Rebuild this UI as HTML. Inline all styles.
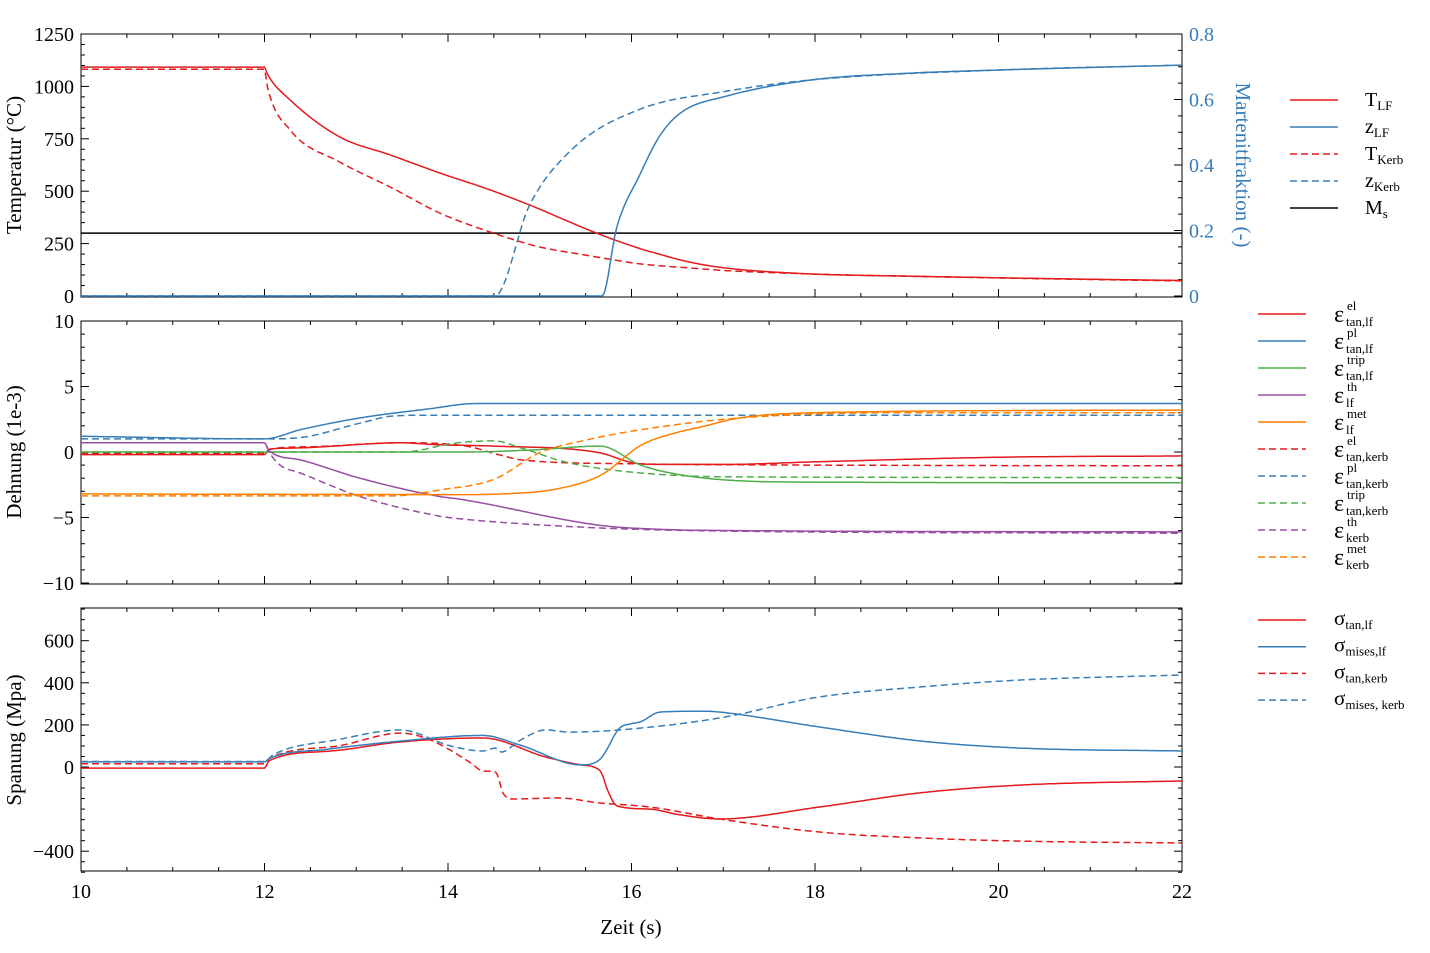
<!DOCTYPE html>
<html><head><meta charset="utf-8">
<style>
html,body{margin:0;padding:0;background:#fff;}
svg{display:block;font-family:"Liberation Serif",serif;}
</style></head>
<body>
<svg id="s" width="1430" height="953" xmlns="http://www.w3.org/2000/svg"></svg>
<script>
const svg=document.getElementById('s');
let html='';
const R='#e41a1c',B='#377eb8',G='#4daf4a',P='#984ea3',O='#ff7f00';
const X=t=>81+(t-10)*91.75;
const L=81,Rr=1182;
function line(x1,y1,x2,y2,c,w,dash){html+=`<line x1="${x1}" y1="${y1}" x2="${x2}" y2="${y2}" stroke="${c||'#000'}" stroke-width="${w||1}" ${dash?`stroke-dasharray="${dash}"`:''}/>`;}
function txt(x,y,s,opt){opt=opt||{};html+=`<text x="${x}" y="${y}" font-size="${opt.fs||20}" fill="${opt.c||'#000'}" text-anchor="${opt.a||'middle'}" ${opt.tr?`transform="${opt.tr}"`:''}>${s}</text>`;}
function curve(pts,Yf,c,dash){
  const n=pts.length,xs=pts.map(p=>p[0]),ys=pts.map(p=>p[1]);
  const d=[],m=new Array(n);
  for(let i=0;i<n-1;i++)d.push((ys[i+1]-ys[i])/(xs[i+1]-xs[i]));
  m[0]=d[0];m[n-1]=d[n-2];
  for(let i=1;i<n-1;i++){ if(d[i-1]*d[i]<=0)m[i]=0; else { m[i]=(d[i-1]+d[i])/2; } }
  for(let i=0;i<n-1;i++){ if(d[i]===0){m[i]=0;m[i+1]=0;continue;}
    const a=m[i]/d[i],b=m[i+1]/d[i],s=a*a+b*b; if(s>9){const tt=3/Math.sqrt(s);m[i]=tt*a*d[i];m[i+1]=tt*b*d[i];}}
  const out=[];
  for(let i=0;i<n-1;i++){const h=xs[i+1]-xs[i];const N=Math.max(2,Math.ceil(h*40));
    for(let k=0;k<N;k++){const u=k/N,u2=u*u,u3=u2*u;
      const y=(2*u3-3*u2+1)*ys[i]+(u3-2*u2+u)*h*m[i]+(-2*u3+3*u2)*ys[i+1]+(u3-u2)*h*m[i+1];
      out.push(X(xs[i]+u*h).toFixed(1)+','+Yf(y).toFixed(1));}}
  out.push(X(xs[n-1]).toFixed(1)+','+Yf(ys[n-1]).toFixed(1));
  html+=`<polyline points="${out.join(' ')}" fill="none" stroke="${c}" stroke-width="1.5" stroke-linejoin="round" ${dash?'stroke-dasharray="7,4"':''}/>`;
}
function frame(top,bot,yt,ytm,Yf,rightTicks){
  html+=`<rect x="${L}" y="${top}" width="${Rr-L}" height="${bot-top}" fill="none" stroke="#000" stroke-width="1"/>`;
  for(let t=10;t<=22.001;t+=0.5){const x=X(t);const len=(Math.abs(t%2)<0.01)?8:4;
    line(x,bot,x,bot-len);line(x,top,x,top+len);}
  for(const v of ytm){const y=Yf(v);line(L,y,L+4,y);if(rightTicks)line(Rr,y,Rr-4,y);}
  for(const v of yt){const y=Yf(v);line(L,y,L+8,y);if(rightTicks)line(Rr,y,Rr-8,y);
    txt(L-7,y+7,(v<0?'−'+(-v):v),{a:'end'});}
}
// Panel 1
const Y1=T=>296-T*0.2096, Z=z=>296-z*327.5;
frame(34,297,[0,250,500,750,1000,1250],[50,100,150,200,300,350,400,450,550,600,650,700,800,850,900,950,1050,1100,1150,1200],Y1,false);
for(let i=0;i<=16;i++){const z=i*0.05;const y=Z(z);line(Rr,y,Rr-(i%4===0?8:4),y,'#000');}
[0,0.2,0.4,0.6,0.8].forEach(z=>txt(Rr+7,Z(z)+7,z===0?'0':z.toFixed(1),{a:'start',c:B}));
line(L,Y1(300),Rr,Y1(300),'#000',1.5);
curve([[10,1092],[12,1092],[12.03,1060],[12.28,935],[12.82,759],[13.37,673],[13.91,587],[14.46,506],[14.89,434],[15.62,300],[16.1,225],[16.3,200],[16.6,165],[17,135],[17.97,105],[19,95],[20,87],[21,80],[22,74]],Y1,R,false);
curve([[10,1082],[12,1082],[12.03,1000],[12.28,792],[12.82,639],[13.37,520],[13.91,396],[14.46,305],[15,234],[15.5,195],[16.1,153],[16.6,135],[17,122],[17.97,105],[20,86],[22,72]],Y1,R,true);
curve([[10,0],[15.68,0],[15.84,0.21],[16.09,0.37],[16.31,0.49],[16.54,0.56],[17.03,0.61],[17.97,0.66],[19,0.68],[20,0.69],[22,0.705]],Z,B,false);
curve([[10,0],[14.51,0],[14.89,0.278],[15.36,0.45],[16.09,0.57],[17.03,0.625],[17.97,0.66],[20,0.69],[22,0.705]],Z,B,true);
// Panel 2
const E=e=>452-e*13.1;
frame(321,584,[-10,-5,0,5,10],[-9,-8,-7,-6,-4,-3,-2,-1,1,2,3,4,6,7,8,9],E,true);
curve([[10,-0.2],[12,-0.2],[12.05,0.2],[12.3,0.3],[13.48,0.7],[13.91,0.55],[14.5,0.45],[15.66,-0.07],[16,-0.8],[16.3,-0.95],[17,-0.95],[18,-0.75],[20,-0.4],[22,-0.3]],E,R,false);
curve([[10,-0.1],[12,-0.1],[12.05,0.2],[12.5,0.4],[13.5,0.7],[14.2,0.45],[14.55,-0.2],[14.8,-0.6],[16,-0.9],[18,-1.0],[22,-1.05]],E,R,true);
curve([[10,1.2],[12,1.0],[12.39,1.7],[13.04,2.6],[13.8,3.3],[14.3,3.7],[22,3.7]],E,B,false);
curve([[10,1.0],[12,1.0],[12.39,1.1],[13.04,2.2],[13.4,2.75],[13.7,2.8],[22,2.8]],E,B,true);
curve([[10,0],[14.2,0],[14.9,0.15],[15.66,0.45],[16.1,-1.0],[16.5,-1.7],[17.18,-2.2],[18,-2.3],[22,-2.35]],E,G,false);
curve([[10,0],[13.5,0],[14.1,0.7],[14.5,0.85],[14.8,0.3],[15.3,-0.8],[16.1,-1.6],[17.18,-1.9],[22,-1.95]],E,G,true);
curve([[10,0.7],[12,0.7],[12.05,0.1],[12.39,-0.6],[13.04,-2.0],[13.91,-3.4],[14.13,-3.6],[15.66,-5.6],[16.3,-5.9],[17.18,-6.0],[22,-6.1]],E,P,false);
curve([[10,0.7],[12,0.7],[12.05,0],[12.17,-1.0],[12.39,-1.6],[13.04,-3.4],[13.91,-4.9],[14.13,-5.1],[15.66,-5.8],[17.18,-6.05],[22,-6.2]],E,P,true);
curve([[10,-3.2],[14.2,-3.25],[14.6,-3.2],[15.2,-2.8],[15.67,-1.75],[16.1,0.5],[16.5,1.5],[16.75,1.9],[17.18,2.6],[18,3.0],[22,3.2]],E,O,false);
curve([[10,-3.35],[13.4,-3.35],[13.91,-2.9],[14.51,-2.06],[15,-0.05],[15.5,0.9],[16.1,1.7],[17.18,2.6],[19,3.0],[22,3.0]],E,O,true);
// Panel 3
const S=s=>767-s*0.2105;
frame(608,871,[-400,0,200,400,600],[-500,-450,-350,-300,-250,-200,-150,-100,-50,50,100,150,250,300,350,450,500,550,650,700,750],S,true);
curve([[10,-5],[12,-5],[12.05,30],[12.7,75],[13.48,119],[14.38,138],[15.06,48],[15.45,10],[15.66,-19],[15.74,-110],[15.84,-185],[16.2,-200],[16.5,-225],[16.96,-247],[18.05,-190],[19.14,-123],[20.23,-86],[22,-66]],S,R,false);
curve([[10,15],[12,15],[12.05,40],[12.8,100],[13.48,161],[13.81,128],[14.25,19],[14.38,-19],[14.52,-24],[14.6,-124],[14.7,-152],[15.2,-147],[15.66,-171],[16.2,-190],[16.96,-247],[18.05,-309],[19.14,-337],[20.23,-352],[22,-361]],S,R,true);
curve([[10,24],[12,24],[12.05,40],[12.7,85],[13.48,123],[14.38,150],[14.78,105],[15.45,10],[15.66,38],[15.87,185],[15.98,204],[16.1,215],[16.31,261],[16.8,265],[16.96,261],[18.05,190],[19.14,124],[20.23,90],[22,76]],S,B,false);
curve([[10,26],[12,26],[12.1,60],[12.8,130],[13.48,176],[14.03,100],[14.38,76],[14.52,90],[14.58,71],[14.79,128],[15.06,176],[15.33,166],[15.87,176],[16.96,233],[18.05,333],[19.14,380],[20.23,413],[22,437]],S,B,true);
// x labels
[10,12,14,16,18,20,22].forEach(t=>txt(X(t),898,t));
txt(631,934,'Zeit (s)',{fs:21});
txt(0,0,'Temperatur (°C)',{fs:21,tr:'translate(21,165) rotate(-90)'});
txt(0,0,'Dehnung (1e-3)',{fs:21,tr:'translate(21,452) rotate(-90)'});
txt(0,0,'Spanung (Mpa)',{fs:21,tr:'translate(21,740) rotate(-90)'});
txt(0,0,'Martenitfraktion (-)',{fs:21,c:B,tr:'translate(1236,165) rotate(90)'});
// legends
function leg(x1,x2,tx,y,c,dash,label){line(x1,y,x2,y,c,1.5,dash?'7,4':null);
  html+=`<text x="${tx}" y="${y+6}" font-size="20">${label}</text>`;}
const sub=s=>`<tspan font-size="13" dy="4">${s}</tspan>`;
leg(1290,1338,1365,100,R,0,'T'+sub('LF'));
leg(1290,1338,1365,127,B,0,'z'+sub('LF'));
leg(1290,1338,1365,154,R,1,'T'+sub('Kerb'));
leg(1290,1338,1365,181,B,1,'z'+sub('Kerb'));
leg(1290,1338,1365,208,'#000',0,'M'+sub('s'));
function eps(x,y,sup,sb){return `<text x="${x}" y="${y+8}" font-size="24">ε</text><text x="${x+13}" y="${y-4}" font-size="13">${sup}</text><text x="${x+12}" y="${y+12}" font-size="13">${sb}</text>`;}
const el=[[R,0,'el','tan,lf'],[B,0,'pl','tan,lf'],[G,0,'trip','tan,lf'],[P,0,'th','lf'],[O,0,'met','lf'],[R,1,'el','tan,kerb'],[B,1,'pl','tan,kerb'],[G,1,'trip','tan,kerb'],[P,1,'th','kerb'],[O,1,'met','kerb']];
el.forEach((e,i)=>{const y=314+27*i;line(1258,y,1306,y,e[0],1.5,e[1]?'7,4':null);html+=eps(1334,y,e[2],e[3]);});
const sl=[[R,0,'tan,lf'],[B,0,'mises,lf'],[R,1,'tan,kerb'],[B,1,'mises, kerb']];
sl.forEach((e,i)=>{const y=620+26.7*i;line(1258,y,1306,y,e[0],1.5,e[1]?'7,4':null);
  html+=`<text x="1334" y="${y+5}" font-size="21">σ<tspan font-size="13" dy="4">${e[2]}</tspan></text>`;});
svg.innerHTML=html;
</script>
</body></html>
